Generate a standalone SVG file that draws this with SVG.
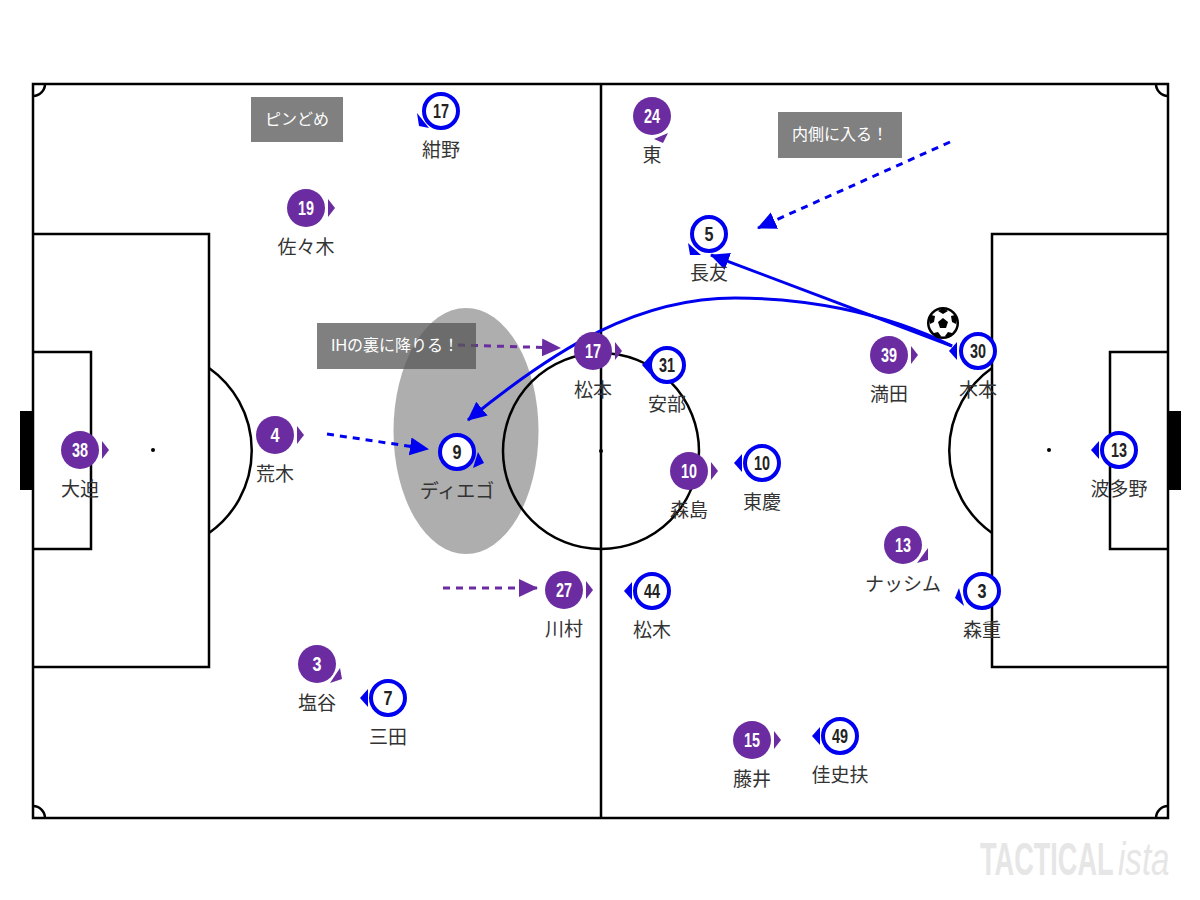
<svg xmlns="http://www.w3.org/2000/svg" width="1200" height="900" viewBox="0 0 1200 900">
<defs>
<style>
.ln{fill:none;stroke:#000;stroke-width:2.5}
.nm{font-family:"Liberation Sans","Noto Sans CJK JP",sans-serif;font-size:19px;fill:#333;text-anchor:middle}
.num{font-family:"Liberation Sans",sans-serif;font-size:20px;font-weight:700;text-anchor:middle}
.p circle{fill:#6a2ca0}.p .num{fill:#fff}.p polygon{fill:#6a2ca0}
.b circle{fill:#fff;stroke:#0000f0;stroke-width:4}.b .num{fill:#222}.b polygon{fill:#0000f0}
.note{fill:#555;fill-opacity:.75}
.nt{font-family:"Liberation Sans","Noto Sans CJK JP",sans-serif;font-size:16px;fill:#fff}
.lg{font-family:"Liberation Sans",sans-serif;font-size:46px;fill:#e6e6e6}
</style>
<marker id="ab" markerUnits="userSpaceOnUse" markerWidth="22" markerHeight="20" refX="18" refY="9" orient="auto"><path d="M0 0L19 9L0 18z" fill="#0000f0"/></marker>
<marker id="ap" markerUnits="userSpaceOnUse" markerWidth="22" markerHeight="20" refX="18" refY="9" orient="auto"><path d="M0 0L19 9L0 18z" fill="#6a2ca0"/></marker>
</defs>
<rect width="1200" height="900" fill="#fff"/>
<ellipse id="zone" cx="466" cy="431" rx="72.500" ry="123" fill="#8c8c8c" fill-opacity=".7"/>
<g id="pitch">
<rect x="33" y="84" width="1135" height="734" class="ln"/>
<path class="ln" d="M601 84V818M33 234H209V667H33M33 352H91V549H33M1168 234H992V667H1168M1168 352H1110V549H1168"/>
<circle cx="601" cy="451" r="98" class="ln"/>
<path class="ln" d="M209 368A101 101 0 0 1 209 533M992 368A101 101 0 0 0 992 533"/>
<path class="ln" d="M33 96A12 12 0 0 0 45 84M1156 84A12 12 0 0 0 1168 96M33 806A12 12 0 0 1 45 818M1156 818A12 12 0 0 1 1168 806"/>
<circle cx="153" cy="450" r="2" fill="#000"/><circle cx="601" cy="451" r="2" fill="#000"/><circle cx="1049" cy="450" r="2" fill="#000"/>
<rect x="20" y="411" width="13" height="79" fill="#000"/><rect x="1168" y="411" width="13" height="79" fill="#000"/>
</g>
<g id="connectors" fill="none">
<path d="M950 142L758 228" stroke="#0000f0" stroke-width="3" stroke-dasharray="7 6" marker-end="url(#ab)"/>
<path d="M327 434L428 449" stroke="#0000f0" stroke-width="3" stroke-dasharray="7 6" marker-end="url(#ab)"/>
<path d="M443 588H537" stroke="#6a2ca0" stroke-width="3" stroke-dasharray="7 6" marker-end="url(#ap)"/>
<path d="M458 345L560 348" stroke="#6a2ca0" stroke-width="3" stroke-dasharray="7 6" marker-end="url(#ap)"/>
<path d="M952 346L711 255" stroke="#0000f0" stroke-width="3" marker-end="url(#ab)"/>
<path d="M952 346C880 310 800 298 735 298C640 298 560 345 468 420" stroke="#0000f0" stroke-width="3" marker-end="url(#ab)"/>
</g>
<g id="note1"><rect x="251" y="97" width="92" height="45" class="note"/><text x="265" y="125" class="nt">ピンどめ</text></g>
<g id="note2"><rect x="778" y="112" width="124" height="46" class="note"/><text x="792" y="140" class="nt">内側に入る！</text></g>
<g id="note3"><rect x="317" y="323" width="159" height="46" class="note"/><text x="331" y="351" class="nt">IHの裏に降りる！</text></g>
<g id="p38" class="p"><circle cx="80" cy="450" r="19"/><polygon points="102,441 109,450 102,459"/><text x="80" y="457" class="num" textLength="16" lengthAdjust="spacingAndGlyphs">38</text><text x="80" y="496" class="nm">大迫</text></g>
<g id="p4" class="p"><circle cx="275" cy="435" r="19"/><polygon points="297,426 304,435 297,444"/><text x="275" y="442" class="num" textLength="9" lengthAdjust="spacingAndGlyphs">4</text><text x="275" y="481" class="nm">荒木</text></g>
<g id="p19" class="p"><circle cx="306" cy="208" r="19"/><polygon points="328,199 335,208 328,217"/><text x="306" y="215" class="num" textLength="16" lengthAdjust="spacingAndGlyphs">19</text><text x="306" y="254" class="nm">佐々木</text></g>
<g id="p3" class="p"><circle cx="317" cy="664" r="19"/><polygon points="340,668 342,679 330,683"/><text x="317" y="671" class="num" textLength="9" lengthAdjust="spacingAndGlyphs">3</text><text x="317" y="710" class="nm">塩谷</text></g>
<g id="p27" class="p"><circle cx="564" cy="590" r="19"/><polygon points="586,581 593,590 586,599"/><text x="564" y="597" class="num" textLength="16" lengthAdjust="spacingAndGlyphs">27</text><text x="564" y="636" class="nm">川村</text></g>
<g id="p17" class="p"><circle cx="593" cy="351" r="19"/><polygon points="615,342 622,351 615,360"/><text x="593" y="358" class="num" textLength="16" lengthAdjust="spacingAndGlyphs">17</text><text x="593" y="397" class="nm">松本</text></g>
<g id="p10" class="p"><circle cx="689" cy="471" r="19"/><polygon points="711,462 718,471 711,480"/><text x="689" y="478" class="num" textLength="16" lengthAdjust="spacingAndGlyphs">10</text><text x="689" y="517" class="nm">森島</text></g>
<g id="p24" class="p"><circle cx="652" cy="116" r="19"/><polygon points="668,133 663,143 654,139"/><text x="652" y="123" class="num" textLength="16" lengthAdjust="spacingAndGlyphs">24</text><text x="652" y="162" class="nm">東</text></g>
<g id="p39" class="p"><circle cx="889" cy="355" r="19"/><polygon points="911,346 918,355 911,364"/><text x="889" y="362" class="num" textLength="16" lengthAdjust="spacingAndGlyphs">39</text><text x="889" y="401" class="nm">満田</text></g>
<g id="p13" class="p"><circle cx="903" cy="545" r="19"/><polygon points="928,548 928,560 917,563"/><text x="903" y="552" class="num" textLength="16" lengthAdjust="spacingAndGlyphs">13</text><text x="903" y="591" class="nm">ナッシム</text></g>
<g id="p15" class="p"><circle cx="752" cy="740" r="19"/><polygon points="774,731 781,740 774,749"/><text x="752" y="747" class="num" textLength="16" lengthAdjust="spacingAndGlyphs">15</text><text x="752" y="786" class="nm">藤井</text></g>
<g id="b17" class="b"><polygon points="417,113 419,126 429,128"/><circle cx="441" cy="111" r="17"/><text x="441" y="118" class="num" textLength="16" lengthAdjust="spacingAndGlyphs">17</text><text x="441" y="157" class="nm">紺野</text></g>
<g id="b9" class="b"><polygon points="478,452 484,463 473,468"/><circle cx="457" cy="452" r="17"/><text x="457" y="459" class="num" textLength="9" lengthAdjust="spacingAndGlyphs">9</text><text x="457" y="498" class="nm">ディエゴ</text></g>
<g id="b5" class="b"><polygon points="688,243 701,255 690,255"/><circle cx="709" cy="234" r="17"/><text x="709" y="241" class="num" textLength="9" lengthAdjust="spacingAndGlyphs">5</text><text x="709" y="280" class="nm">長友</text></g>
<g id="b31" class="b"><polygon points="650,356 642,365 650,374"/><circle cx="667" cy="365" r="17"/><text x="667" y="372" class="num" textLength="16" lengthAdjust="spacingAndGlyphs">31</text><text x="667" y="411" class="nm">安部</text></g>
<g id="b10" class="b"><polygon points="742,454 734,463 742,472"/><circle cx="762" cy="463" r="17"/><text x="762" y="470" class="num" textLength="16" lengthAdjust="spacingAndGlyphs">10</text><text x="762" y="509" class="nm">東慶</text></g>
<g id="b44" class="b"><polygon points="632,582 624,591 632,600"/><circle cx="652" cy="591" r="17"/><text x="652" y="598" class="num" textLength="16" lengthAdjust="spacingAndGlyphs">44</text><text x="652" y="637" class="nm">松木</text></g>
<g id="b7" class="b"><polygon points="368,689 360,698 368,707"/><circle cx="388" cy="698" r="17"/><text x="388" y="705" class="num" textLength="9" lengthAdjust="spacingAndGlyphs">7</text><text x="388" y="744" class="nm">三田</text></g>
<g id="b49" class="b"><polygon points="820,727 812,736 820,745"/><circle cx="840" cy="736" r="17"/><text x="840" y="743" class="num" textLength="16" lengthAdjust="spacingAndGlyphs">49</text><text x="840" y="782" class="nm">佳史扶</text></g>
<g id="b30" class="b"><polygon points="957,342 949,351 957,360"/><circle cx="978" cy="351" r="17"/><text x="978" y="358" class="num" textLength="16" lengthAdjust="spacingAndGlyphs">30</text><text x="978" y="397" class="nm">木本</text></g>
<g id="b3" class="b"><polygon points="959,588 955,598 964,606"/><circle cx="982" cy="591" r="17"/><text x="982" y="598" class="num" textLength="9" lengthAdjust="spacingAndGlyphs">3</text><text x="982" y="637" class="nm">森重</text></g>
<g id="b13" class="b"><polygon points="1099,441 1091,450 1099,459"/><circle cx="1119" cy="450" r="17"/><text x="1119" y="457" class="num" textLength="16" lengthAdjust="spacingAndGlyphs">13</text><text x="1119" y="496" class="nm">波多野</text></g>
<g id="ball"><circle cx="943" cy="323" r="16" fill="#000"/><circle cx="943" cy="323" r="13.500" fill="#fff"/><polygon points="943,318 948,322 946,328 940,328 938,322" fill="#000"/><path d="M943 308l5 3-5 3-5-3zM931 315l4 1-1 6-4 2-1-5zM955 315l-4 1 1 6 4 2 1-5zM934 333l4-1 3 4-3 2-4-2zM952 333l-4-1-3 4 3 2 4-2z" fill="#000"/></g>
<g id="logo"><text transform="translate(980 875) scale(.59 1)" class="lg" font-weight="700">TACTICAL</text><text transform="translate(1118 875) scale(.72 1)" class="lg" font-style="italic">ista</text></g>
</svg>
